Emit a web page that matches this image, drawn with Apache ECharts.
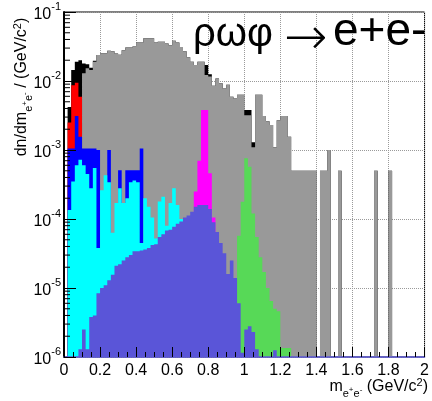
<!DOCTYPE html>
<html><head><meta charset="utf-8">
<script src="https://cdn.jsdelivr.net/npm/echarts@6/dist/echarts.min.js"></script>
<style>html,body{margin:0;padding:0;background:#fff}#c{width:432px;height:401px}</style>
</head><body><div id="c"></div>
<script>
// ---- data: 100 bins of 0.02 GeV/c^2 from 0 to 2 ----
const BIN_WIDTH = 0.02;
const binLow = Array.from({length: 100}, (_, i) => +(i * BIN_WIDTH).toFixed(2));

const totalBlack = [
 0, 4.2e-3, 0.0144, 0.019, 0.020, 0.018, 0.0175, 0.0155, 0.0197, 0.0238,
 0.0252, 0.0252, 0.0275, 0.027, 0.025, 0.024, 0.028, 0.0306, 0.0306, 0.0315,
 0.036, 0.036, 0.0415, 0.0415, 0.0415, 0.036, 0.037, 0.037, 0.035, 0.033,
 0.0384, 0.036, 0.031, 0.027, 0.022, 0.019, 0.017, 0.019, 0.019, 0.017,
 0.0125, 0.0085, 0.0109, 0.0093, 0.0078, 0.0088, 0.0059, 0.0056, 0.0063, 0.0063,
 0.0038, 0.0038, 0.0013, 0.0063, 0.0063, 0.0031, 0.0026, 0.0023, 0.0011, 0.0027,
 0.0031, 0.0031, 0.00156, 0.0005, 0.0005, 0.0005, 0.0005, 0.0005, 0.0005, 0.0005,
 0, 0.0005, 0.0005, 0.001, 0, 0, 0.0005, 0, 0, 0,
 0, 0, 0, 0, 0, 0, 0.0005, 0, 0, 0,
 0.0005, 0, 0, 0, 0, 0, 0, 0, 0, 0
];
const gray = [
 0, 0, 0, 0, 0, 0.013, 0.0153, 0.0144, 0.019, 0.0238,
 0.0252, 0.0252, 0.0275, 0.027, 0.025, 0.024, 0.028, 0.0306, 0.0306, 0.0315,
 0.036, 0.036, 0.0415, 0.0415, 0.0415, 0.036, 0.037, 0.037, 0.035, 0.033,
 0.0384, 0.036, 0.031, 0.027, 0.022, 0.019, 0.017, 0.019, 0.019, 0.0122,
 0.0116, 0.0085, 0.0109, 0.0093, 0.0078, 0.0088, 0.0059, 0.0056, 0.0063, 0.0063,
 0.0032, 0.0032, 0.0011, 0.0063, 0.0063, 0.0031, 0.0026, 0.0023, 0.0011, 0.0027,
 0.0031, 0.0031, 0.00156, 0.0005, 0.0005, 0.0005, 0.0005, 0.0005, 0.0005, 0.0005,
 0, 0.0005, 0.0005, 0.001, 0, 0, 0.0005, 0, 0, 0,
 0, 0, 0, 0, 0, 0, 0.0005, 0, 0, 0,
 0.0005, 0, 0, 0, 0, 0, 0, 0, 0, 0
];
const red = [
 0, 2.5e-3, 8.7e-3, 9.4e-3, 5.9e-3, 0
];
const blue = [
 0, 1.05e-3, 1.05e-3, 3.1e-3, 1.56e-3, 1.05e-3, 1.05e-3, 1.05e-3, 1.05e-3, 1.0e-3,
 0, 0, 1.0e-3, 0, 0, 5.1e-4, 0, 5.1e-4, 5.1e-4, 5.1e-4,
 5.1e-4, 1.05e-3, 0
];
const cyan = [
 0, 1.35e-4, 3.5e-4, 6e-4, 7.2e-4, 6e-4, 4.5e-4, 2.8e-4, 5.5e-4, 3.8e-5,
 2.6e-4, 4.3e-4, 3.4e-4, 6.3e-5, 1.7e-4, 2.8e-4, 1.7e-4, 2e-4, 3.4e-4, 3.6e-4,
 3.4e-4, 4.5e-5, 2e-4, 1.5e-4, 1.05e-4, 5.2e-5, 1.8e-4, 2.1e-4, 8e-5, 1.7e-4,
 2.8e-4, 1.6e-4, 1e-4, 0
];
const magenta = [
 0, 0, 0, 0, 0, 0, 0, 0, 0, 0,
 0, 0, 0, 0, 0, 0, 0, 0, 0, 0,
 0, 0, 0, 0, 0, 0, 0, 0, 0, 0,
 0, 0, 0, 0, 0, 0, 2.5e-4, 7e-4, 3.8e-3, 3.8e-3,
 4.6e-4, 1.05e-4, 0
];
const green = [
 0, 0, 0, 0, 0, 0, 0, 0, 0, 0,
 0, 0, 0, 0, 0, 0, 0, 0, 0, 0,
 0, 0, 0, 0, 0, 0, 0, 0, 0, 0,
 0, 0, 0, 0, 0, 0, 0, 0, 0, 0,
 0, 0, 0, 0, 0, 0, 0, 0, 5.7e-5, 1.78e-4,
 7.6e-4, 5.7e-4, 1.2e-4, 5.5e-5, 2.8e-5, 1.7e-5, 1e-5, 6.5e-6, 5e-6, 4.6e-6,
 1.35e-6, 1.35e-6, 1.35e-6, 0
];
const slate = [
 0, 0, 0, 0, 1.3e-6, 2.5e-6, 1.3e-6, 3.8e-6, 4e-6, 8.4e-6,
 1.0e-5, 1.1e-5, 1.3e-5, 1.55e-5, 2.1e-5, 2.2e-5, 2.5e-5, 2.8e-5, 3.0e-5, 3.4e-5,
 3.4e-5, 3.5e-5, 3.6e-5, 3.8e-5, 4.2e-5, 4.3e-5, 5.5e-5, 6e-5, 6.8e-5, 7.0e-5,
 7.7e-5, 8.5e-5, 9.2e-5, 1.05e-4, 1.12e-4, 1.27e-4, 1.5e-4, 1.6e-4, 1.6e-4, 1.6e-4,
 1.4e-4, 9e-5, 6.5e-5, 4.5e-5, 3.2e-5, 1.6e-5, 2.5e-5, 1.4e-5, 6e-6, 1.15e-6,
 2.5e-6, 2.8e-6, 2.3e-6, 1.3e-6, 0, 0, 0, 0, 1.25e-6, 0
];
const titleParts = ['ρωφ', '→', 'e+e-'];

// ---- drawing ----
const Y_MIN = 1e-6, Y_MAX = 1e-1;
const FONT = 'Liberation Sans, Arial, Helvetica, sans-serif';

function histSeries(name, values, color) {
  // one step polygon per histogram, built through the axes' own scales
  const data = values.map((v, i) => [binLow[i], binLow[i] + BIN_WIDTH, Math.max(v, Y_MIN)]);
  return {
    type: 'custom', name, data, silent: true, animation: false, clip: true,
    xAxisIndex: 0, yAxisIndex: 0,
    encode: {x: [0, 1], y: 2},
    renderItem: (params, api) => {
      if (params.dataIndexInside !== 0) return null;
      const n = params.dataInsideLength;
      const pts = [api.coord([api.value(0, 0), Y_MIN])];
      for (let k = 0; k < n; k++) {
        const v = api.value(2, k);
        pts.push(api.coord([api.value(0, k), v]));
        pts.push(api.coord([api.value(1, k), v]));
      }
      pts.push(api.coord([api.value(1, n - 1), Y_MIN]));
      return {type: 'polygon', shape: {points: pts}, style: {fill: color}};
    }
  };
}

// minor log ticks on the y axis (2..9 x 10^n)
const yMinorTicks = [];
for (let e = -6; e < -1; e++) for (let k = 2; k <= 9; k++) yMinorTicks.push(k * Math.pow(10, e));

const subRich = {
  a: {fontSize: 16, fontFamily: FONT, fill: '#000', color: '#000', lineHeight: 24, verticalAlign: 'middle'},
  sb: {fontSize: 11, fontFamily: FONT, fill: '#000', color: '#000', lineHeight: 24, verticalAlign: 'bottom', padding: [0, 0, 0, 0]},
  ss: {fontSize: 8, fontFamily: FONT, fill: '#000', color: '#000', lineHeight: 24, verticalAlign: 'bottom', padding: [0, 0, 5, 0]},
  sup: {fontSize: 11, fontFamily: FONT, fill: '#000', color: '#000', lineHeight: 24, verticalAlign: 'top', padding: [2, 0, 0, 0]}
};
const gridLine = {show: true, lineStyle: {type: 'dotted', color: '#9a9a9a', width: 1}};

const chart = echarts.init(document.getElementById('c'), null, {renderer: 'canvas'});
chart.setOption({
  animation: false,
  backgroundColor: '#fff',
  grid: {left: 64, right: 4, top: 12, bottom: 44, show: true, borderColor: '#000', borderWidth: 1},
  xAxis: [
    { // grid lines only, behind the histograms
      type: 'value', min: 0, max: 2, interval: 0.2, position: 'bottom',
      axisLine: {show: false}, axisTick: {show: false}, axisLabel: {show: false},
      splitLine: gridLine, z: 0
    },
    { // axis line, ticks and labels, in front
      type: 'value', min: 0, max: 2, interval: 0.2, position: 'bottom', offset: 0,
      axisLine: {show: true, onZero: false, lineStyle: {color: '#5b57d6', width: 1.5}},
      axisTick: {inside: true, length: 10, lineStyle: {color: '#000'}},
      minorTick: {show: true, splitNumber: 4, length: 5, lineStyle: {color: '#000'}},
      splitLine: {show: false},
      axisLabel: {fontSize: 16, color: '#000', margin: 6, fontFamily: FONT, showMinLabel: true, showMaxLabel: true},
      z: 10
    }
  ],
  yAxis: [
    {
      type: 'log', logBase: 10, min: Y_MIN, max: Y_MAX, splitNumber: 5, position: 'left',
      axisLine: {show: false}, axisTick: {show: false}, axisLabel: {show: false},
      splitLine: gridLine, z: 0
    },
    {
      type: 'log', logBase: 10, min: Y_MIN, max: Y_MAX, splitNumber: 5, position: 'left', offset: 0,
      axisLine: {show: true, lineStyle: {color: '#000', width: 2}},
      axisTick: {inside: true, length: 12, lineStyle: {color: '#000'}},
      splitLine: {show: false},
      axisLabel: {
        margin: 3, color: '#000',
        formatter: v => '{b|10}{s|' + Math.round(Math.log10(v)) + '}',
        rich: {
          b: {fontSize: 16, fontFamily: FONT, color: '#000', lineHeight: 22, verticalAlign: 'bottom'},
          s: {fontSize: 11, fontFamily: FONT, color: '#000', lineHeight: 22, verticalAlign: 'top', padding: [0, 0, 10, 0]}
        }
      },
      z: 10
    }
  ],
  series: [
    histSeries('total', totalBlack, '#000000'),
    histSeries('gray', gray, '#999999'),
    histSeries('red', red, '#ff0000'),
    histSeries('blue', blue, '#0000ff'),
    histSeries('cyan', cyan, '#00ffff'),
    histSeries('magenta', magenta, '#ff00ff'),
    histSeries('green', green, '#57d957'),
    histSeries('slate', slate, '#5a55d8'),
    {
      type: 'custom', silent: true, animation: false, z: 10,
      data: yMinorTicks.map(v => [0, v]),
      encode: {x: 0, y: 1},
      renderItem: (params, api) => {
        const p = api.coord([api.value(0), api.value(1)]);
        return {type: 'line', shape: {x1: p[0], y1: p[1], x2: p[0] + 6, y2: p[1]}, style: {stroke: '#000', lineWidth: 1}};
      }
    }
  ],
  graphic: [
    {type: 'text', x: 193, y: 55, z: 100, style: {text: titleParts[0], fontSize: 40, fontFamily: FONT, fill: '#000', verticalAlign: 'bottom'}},
    {type: 'text', x: 284, y: 40, z: 100, style: {text: titleParts[1], fontSize: 52, fontFamily: 'DejaVu Sans', fontWeight: 200, fill: '#000', verticalAlign: 'middle'}},
    {type: 'text', x: 333, y: 55, z: 100, style: {text: titleParts[2], fontSize: 46, fontFamily: FONT, fill: '#000', verticalAlign: 'bottom'}},
    {type: 'text', x: 22, y: 87, rotation: Math.PI / 2, z: 100,
      style: {text: '{a|dn/dm}{sb|e}{ss|+}{sb|e}{ss|-}{a| / (GeV/c}{sup|2}{a|)}', align: 'center', verticalAlign: 'middle', rich: subRich}},
    {type: 'text', right: 4, top: 375, z: 100,
      style: {text: '{a|m}{sb|e}{ss|+}{sb|e}{ss|-}{a| (GeV/c}{sup|2}{a|)}', rich: subRich}}
  ]
});
</script></body></html>
